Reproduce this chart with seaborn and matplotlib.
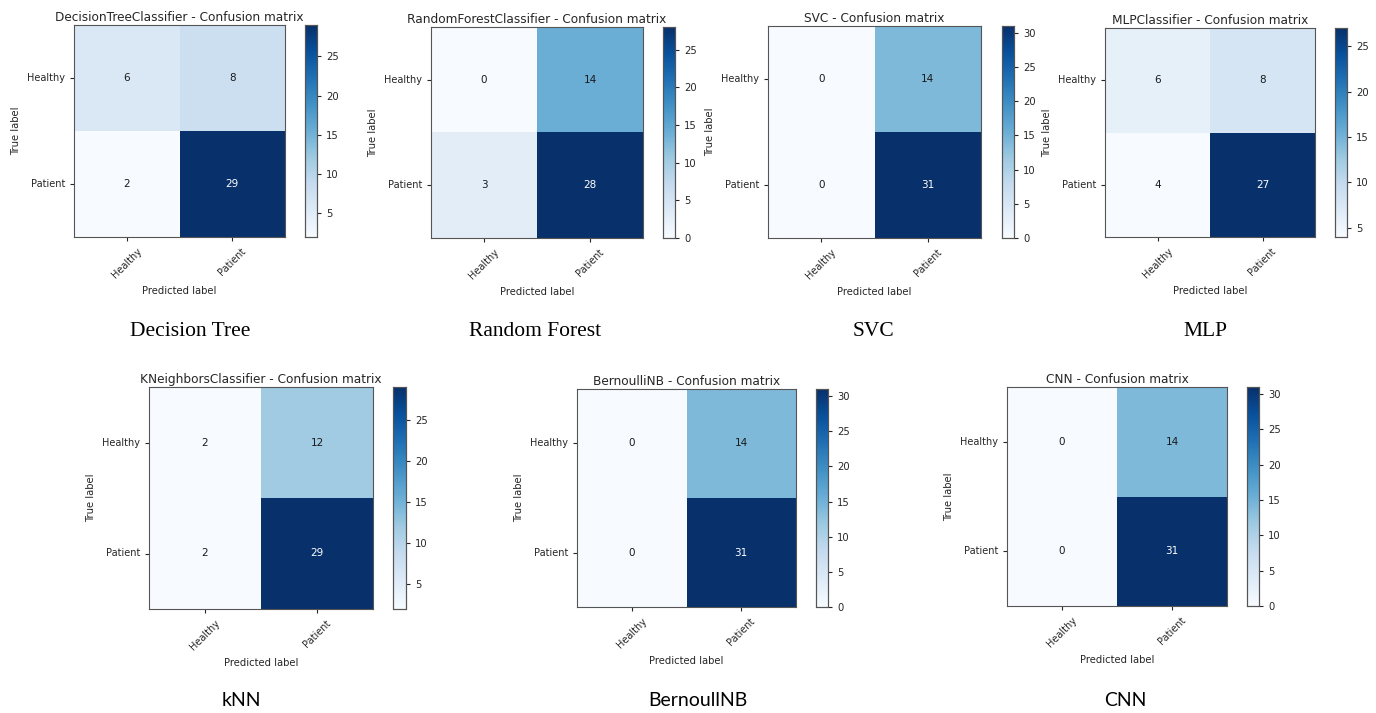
import numpy as np
import pandas as pd
import matplotlib
matplotlib.use("Agg")
import matplotlib.pyplot as plt
import seaborn as sns

# ---- data ----
class_labels = ["Healthy", "Patient"]
model_titles = ["DecisionTreeClassifier", "RandomForestClassifier", "SVC", "MLPClassifier",
                "KNeighborsClassifier", "BernoulliNB", "CNN"]
captions = ["Decision Tree", "Random Forest", "SVC", "MLP", "kNN", "BernoullNB", "CNN"]
cm_dt = [[6, 8], [2, 29]]
cm_rf = [[0, 14], [3, 28]]
cm_svc = [[0, 14], [0, 31]]
cm_mlp = [[6, 8], [4, 27]]
cm_knn = [[2, 12], [2, 29]]
cm_bnb = [[0, 14], [0, 31]]
cm_cnn = [[0, 14], [0, 31]]
matrices = [cm_dt, cm_rf, cm_svc, cm_mlp, cm_knn, cm_bnb, cm_cnn]

W, H = 1376, 713
fig = plt.figure(figsize=(W / 100, H / 100), dpi=100)
plt.rcParams['font.family'] = ['DejaVu Sans']

# pixel boxes: (left, top, right, bottom) for heatmap axes and colorbar axes
ax_boxes = [(74, 25, 285, 237), (431, 27, 643, 238), (768, 26, 981, 238), (1105, 28, 1315, 237),
            (149, 387, 373, 609), (577, 389, 796, 607), (1007, 387, 1227, 606)]
cb_boxes = [(305, 25, 317, 237), (663, 27, 675, 238), (1002, 26, 1014, 238), (1335, 28, 1347, 237),
            (393, 387, 406, 609), (816, 389, 828, 607), (1247, 387, 1259, 606)]
cap_pos = [(190, 332), (535, 332), (874, 332), (1205, 332), (241, 701), (698, 701), (1125, 701)]

def frac(box):
    l, t, r, b = box
    return [l / W, 1 - b / H, (r - l) / W, (b - t) / H]

txt = "#262626"
for i, cm in enumerate(matrices):
    ax = fig.add_axes(frac(ax_boxes[i]))
    cax = fig.add_axes(frac(cb_boxes[i]))
    df = pd.DataFrame(np.array(cm), index=class_labels, columns=class_labels)
    sns.heatmap(df, ax=ax, cbar_ax=cax, cmap="Blues", annot=True, fmt="d",
                annot_kws={"fontsize": 7.5}, square=False)
    vmax = np.max(cm)
    for t, v in zip(ax.texts, np.array(cm).ravel()):
        t.set_color("white" if v > vmax / 2 else "#1a1a1a")
    for s in ax.spines.values():
        s.set_visible(True)
        s.set_color("#555555")
        s.set_linewidth(0.8)
    ax.tick_params(axis="both", labelsize=7, length=3, colors=txt)
    ax.set_yticklabels(class_labels, rotation=0)
    ax.set_xticklabels(class_labels, rotation=45, ha="center")
    ax.set_xlabel("Predicted label", fontsize=7.2, color=txt)
    ax.set_ylabel("True label", fontsize=7.2, color=txt)
    ax.set_title(f"{model_titles[i]} - Confusion matrix", fontsize=8.7, color=txt, pad=3)
    cax.tick_params(labelsize=7.2, length=3, colors=txt)
    for s in cax.spines.values():
        s.set_visible(True)
        s.set_color("#555555")
        s.set_linewidth(0.8)
    # caption
    x, y = cap_pos[i]
    if i < 4:
        fig.text(x / W, 1 - y / H, captions[i], ha="center", va="center",
                 fontsize=15.5, family=["Liberation Serif", "DejaVu Serif"], color="black")
    else:
        fig.text(x / W, 1 - y / H, captions[i], ha="center", va="center",
                 fontsize=14, family=["Lato", "DejaVu Sans"], color="black")

fig.savefig("out.png", dpi=100, facecolor="white")
